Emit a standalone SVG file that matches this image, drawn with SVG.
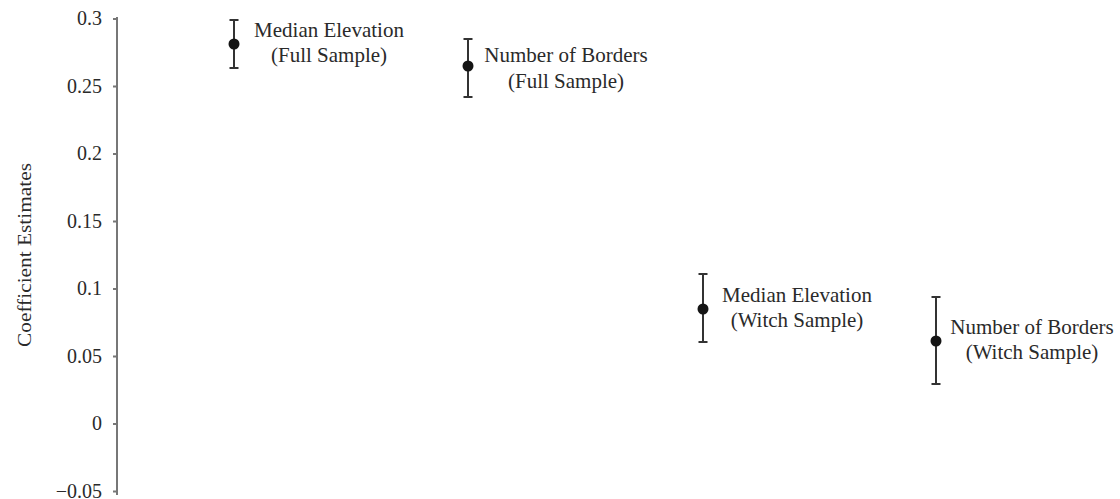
<svg xmlns="http://www.w3.org/2000/svg" width="1120" height="499" viewBox="0 0 1120 499">
<style>
text{font-family:"Liberation Serif","Times New Roman",serif;fill:#2a2a2a}
.tick{font-size:20px;text-anchor:end}
.lbl{font-size:21px;text-anchor:middle}
.axis{stroke:#777;stroke-width:2;fill:none}
.bar{stroke:#333;stroke-width:2;fill:none}
.dot{fill:#151515}
</style>
<rect width="1120" height="499" fill="#ffffff"/>
<g id="y-axis">
<line class="axis" x1="117" y1="17" x2="117" y2="495"/>
<path class="axis" d="M113 19H117M113 86.5H117M113 154H117M113 221.5H117M113 289H117M113 356.5H117M113 424H117M113 491.5H117"/>
<text class="tick" x="102" y="25">0.3</text>
<text class="tick" x="102" y="92.5">0.25</text>
<text class="tick" x="102" y="160">0.2</text>
<text class="tick" x="102" y="227.5">0.15</text>
<text class="tick" x="102" y="295">0.1</text>
<text class="tick" x="102" y="362.5">0.05</text>
<text class="tick" x="102" y="430">0</text>
<text class="tick" x="102" y="497.5">−0.05</text>
<text x="0" y="0" font-size="19" text-anchor="middle" textLength="184" lengthAdjust="spacingAndGlyphs" transform="translate(31 255) rotate(-90)">Coefficient Estimates</text>
</g>
<g id="connectors">
<path class="bar" d="M234 20V68M229.5 20H238.5M229.5 68H238.5"/>
<path class="bar" d="M468 39V97M463.5 39H472.5M463.5 97H472.5"/>
<path class="bar" d="M703 274V342M698.5 274H707.5M698.5 342H707.5"/>
<path class="bar" d="M936 297V384M931.5 297H940.5M931.5 384H940.5"/>
</g>
<g id="median-elevation-full">
<circle class="dot" cx="234" cy="44" r="5.5"/>
<text class="lbl" x="329" y="37">Median Elevation</text>
<text class="lbl" x="329" y="62">(Full Sample)</text>
</g>
<g id="number-of-borders-full">
<circle class="dot" cx="468" cy="66" r="5.5"/>
<text class="lbl" x="566" y="62">Number of Borders</text>
<text class="lbl" x="566" y="88">(Full Sample)</text>
</g>
<g id="median-elevation-witch">
<circle class="dot" cx="703" cy="309" r="5.5"/>
<text class="lbl" x="797" y="302">Median Elevation</text>
<text class="lbl" x="797" y="327">(Witch Sample)</text>
</g>
<g id="number-of-borders-witch">
<circle class="dot" cx="936" cy="341" r="5.5"/>
<text class="lbl" x="1032" y="334">Number of Borders</text>
<text class="lbl" x="1032" y="359">(Witch Sample)</text>
</g>
</svg>
